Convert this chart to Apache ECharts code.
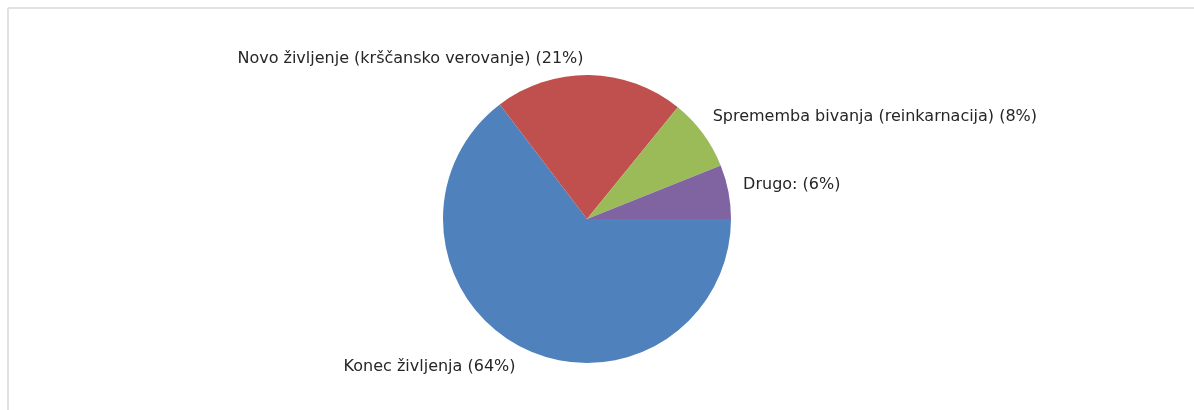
<!DOCTYPE html>
<html>
<head>
<meta charset="utf-8">
<script src="https://cdn.jsdelivr.net/npm/echarts@6/dist/echarts.min.js"></script>
<style>
html, body { margin: 0; padding: 0; background: #fff; }
#pieChart { width: 1194px; height: 410px; }
</style>
</head>
<body>
<div id="pieChart"></div>
<script>
const categories = [
    'Konec življenja',
    'Novo življenje (krščansko verovanje)',
    'Sprememba bivanja (reinkarnacija)',
    'Drugo:'
];
const shares = [64, 21, 8, 6];
const colors = ['#4f81bd', '#c0504d', '#9bbb59', '#8064a2'];

let myChart = echarts.init(document.getElementById('pieChart'));
const option = {
    animation: false,
    // tanek siv okvir zgoraj in levo
    graphic: [
        { type: 'line', shape: { x1: 8, y1: 8, x2: 1194, y2: 8 }, style: { stroke: '#e2e2e2', lineWidth: 2 } },
        { type: 'line', shape: { x1: 8, y1: 8, x2: 8, y2: 410 }, style: { stroke: '#e2e2e2', lineWidth: 2 } }
    ],
    series: [
        {
            type: 'pie',
            center: [587, 219],
            radius: 144,
            startAngle: 0,
            clockwise: true,
            avoidLabelOverlap: false,
            label: {
                show: true,
                position: 'outside',
                formatter: '{b} ({c}%)',
                color: '#262626',
                fontFamily: 'DejaVu Sans',
                fontSize: 16,
                distanceToLabelLine: 0
            },
            labelLine: {
                show: false,
                length: 17,
                length2: 0
            },
            // rahli popravki polozajev oznak
            labelLayout: function (params) {
                if (params.dataIndex === 1) {
                    return { dx: -params.labelRect.width - 6, dy: 1 };
                }
                if (params.dataIndex === 2) {
                    return { dx: -4, dy: -7 };
                }
                if (params.dataIndex === 3) {
                    return { dx: -2, dy: -4 };
                }
                return { dy: 4 };
            },
            emphasis: { disabled: true },
            data: categories.map(function (name, i) {
                return { name: name, value: shares[i], itemStyle: { color: colors[i] } };
            })
        }
    ]
};
myChart.setOption(option);
</script>
</body>
</html>
